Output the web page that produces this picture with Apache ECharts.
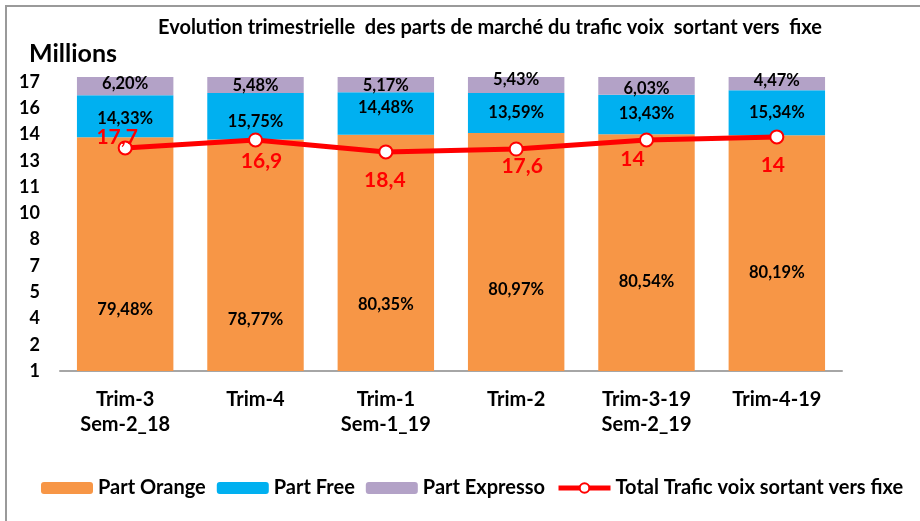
<!DOCTYPE html>
<html>
<head>
<meta charset="utf-8">
<script src="https://cdn.jsdelivr.net/npm/echarts@6/dist/echarts.min.js"></script>
<style>
  html, body { margin: 0; padding: 0; background: #fff; }
  #frame {
    position: absolute; left: 5px; top: 5px; width: 930px; height: 530px;
    border-left: 2px solid #9a9a9a; border-top: 2px solid #9a9a9a;
  }
  #chart { position: absolute; left: 0; top: 0; width: 920px; height: 521px; }
</style>
</head>
<body>
<div id="frame"></div>
<div id="chart"></div>
<script>
// données
const categories = ['Trim-3\nSem-2_18', 'Trim-4', 'Trim-1\nSem-1_19', 'Trim-2', 'Trim-3-19\nSem-2_19', 'Trim-4-19']
const partOrange = [79.48, 78.77, 80.35, 80.97, 80.54, 80.19]
const partFree = [14.33, 15.75, 14.48, 13.59, 13.43, 15.34]
const partExpresso = [6.20, 5.48, 5.17, 5.43, 6.03, 4.47]
// position des points sur l'axe Millions + étiquettes affichées
const totalTrafic = [13.35, 13.79, 13.13, 13.29, 13.79, 13.96]
const totalLabels = ['17,7', '16,9', '18,4', '17,6', '14', '14']
const yTicks = [1, 17, 11] // min, max, nombre d'intervalles

// décalages des étiquettes (comme dans l'original)
const orangeDy = [56, 64, 52, 38, 29, 20]
const freeDy = [2, 5, -6, 0, -1, 0]
const expressoDy = [-2, 1, 1, -5, 3, -3]
const totalOffset = [[-8, -11], [6, 21], [-1, 28], [6, 17], [-14, 19], [-4, 28]]

const font = 'Lato'
const pct = v => v.toFixed(2).replace('.', ',') + '%'

let mychart = echarts.init(document.getElementById('chart'))

function barSeries(name, values, color, dys) {
    return {
        name: name,
        type: 'bar',
        stack: 'parts',
        yAxisIndex: 1,
        barWidth: '74%',
        clip: false,
        itemStyle: { color: color },
        data: values.map((v, i) => ({ value: v, label: { offset: [0, dys[i]] } })),
        label: {
            show: true,
            position: 'inside',
            color: '#000',
            fontFamily: font,
            fontWeight: 'bold',
            fontSize: 16.5,
            formatter: p => pct(p.value)
        }
    }
}

mychart.setOption({
    animation: false,
    title: [
        {
            text: 'Evolution trimestrielle  des parts de marché du trafic voix  sortant vers  fixe',
            left: 153,
            top: 13,
            textStyle: { fontFamily: font, fontWeight: 'bold', fontSize: 20, color: '#000' }
        },
        {
            text: 'Millions',
            left: 24,
            top: 36,
            textStyle: { fontFamily: font, fontWeight: 'bold', fontSize: 25, color: '#000' }
        }
    ],
    legend: {
        left: 41,
        top: 478,
        padding: 0,
        itemWidth: 52,
        itemHeight: 12,
        itemGap: 11,
        textStyle: { fontFamily: font, fontWeight: 'bold', fontSize: 20, color: '#000' },
        data: [
            'Part Orange', 'Part Free', 'Part Expresso',
            { name: 'Total Trafic voix sortant vers fixe', lineStyle: { width: 5 } }
        ]
    },
    grid: { left: 60, right: 78, top: 82, bottom: 150 },
    xAxis: {
        type: 'category',
        data: categories,
        axisTick: { show: false },
        axisLine: { lineStyle: { color: '#a6a6a6', width: 2 } },
        axisLabel: {
            margin: 16,
            lineHeight: 25,
            color: '#000',
            fontFamily: font,
            fontWeight: 'bold',
            fontSize: 20
        }
    },
    yAxis: [
        {
            type: 'value',
            min: yTicks[0],
            max: yTicks[1],
            interval: (yTicks[1] - yTicks[0]) / yTicks[2],
            splitLine: { show: false },
            axisLine: { show: false },
            axisTick: { show: false },
            axisLabel: {
                margin: 20,
                color: '#000',
                fontFamily: font,
                fontWeight: 'bold',
                fontSize: 18,
                formatter: v => Math.round(v)
            }
        },
        {
            // axe caché des parts (100 % = haut des barres)
            type: 'value',
            min: 0,
            max: 100 * 289 / 294,
            show: false,
            splitLine: { show: false }
        }
    ],
    series: [
        barSeries('Part Orange', partOrange, '#F79646', orangeDy),
        barSeries('Part Free', partFree, '#00B0F0', freeDy),
        barSeries('Part Expresso', partExpresso, '#B3A2C7', expressoDy),
        {
            name: 'Total Trafic voix sortant vers fixe',
            type: 'line',
            yAxisIndex: 0,
            z: 5,
            symbol: 'emptyCircle',
            symbolSize: 13,
            lineStyle: { color: '#FF0000', width: 5 },
            itemStyle: { color: '#FF0000', borderWidth: 2.5 },
            data: totalTrafic.map((v, i) => ({ value: v, label: { offset: totalOffset[i] } })),
            label: {
                show: true,
                position: 'inside',
                color: '#FF0000',
                fontFamily: font,
                fontWeight: 'bold',
                fontSize: 21,
                formatter: p => totalLabels[p.dataIndex]
            }
        }
    ]
})
</script>
</body>
</html>
